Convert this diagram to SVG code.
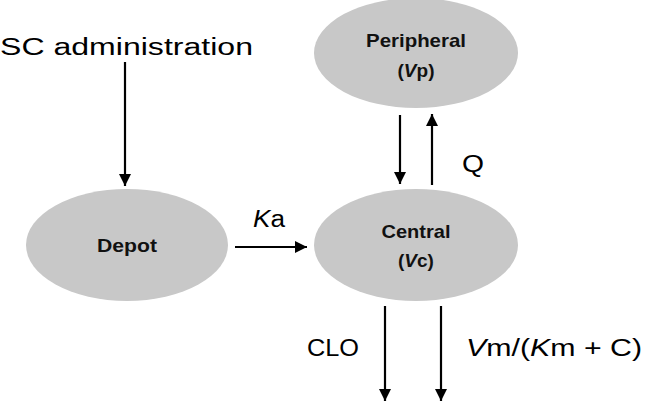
<svg xmlns="http://www.w3.org/2000/svg" width="646" height="402" viewBox="0 0 646 402">
<style>
.node{fill:#c8c8c8;stroke:none}
.nl{font-family:"Liberation Sans",Arial,sans-serif;font-weight:bold;font-size:19px;fill:#111;text-anchor:middle}
.lbl{font-family:"Liberation Sans",Arial,sans-serif;font-size:23px;fill:#000}
.edge{stroke:#000;stroke-width:2.2;fill:none;marker-end:url(#ah)}
</style>
<defs>
<marker id="ah" viewBox="0 0 12 12" refX="12" refY="6" markerWidth="12" markerHeight="12" markerUnits="userSpaceOnUse" orient="auto">
<path d="M0,0 L12,6 L0,12 Z" fill="#000"/>
</marker>
</defs>
<rect width="646" height="402" fill="#fff"/>
<g id="peripheral">
<ellipse class="node" cx="416" cy="53" rx="102" ry="55"/>
<text class="nl" x="416" y="47" textLength="100" lengthAdjust="spacingAndGlyphs">Peripheral</text>
<text class="nl" x="416" y="77">(<tspan font-style="italic">V</tspan>p)</text>
</g>
<g id="depot">
<ellipse class="node" cx="127" cy="245" rx="101" ry="56"/>
<text class="nl" x="127" y="252" textLength="60" lengthAdjust="spacingAndGlyphs">Depot</text>
</g>
<g id="central">
<ellipse class="node" cx="416" cy="245" rx="102" ry="56"/>
<text class="nl" x="416" y="238" textLength="69" lengthAdjust="spacingAndGlyphs">Central</text>
<text class="nl" x="416" y="267">(<tspan font-style="italic">V</tspan>c)</text>
</g>
<g id="labels">
<text class="lbl" x="0" y="55" font-size="30" textLength="253" lengthAdjust="spacingAndGlyphs">SC administration</text>
<text class="lbl" x="253" y="227" textLength="32" lengthAdjust="spacingAndGlyphs"><tspan font-style="italic">K</tspan>a</text>
<text class="lbl" x="462" y="172" textLength="22" lengthAdjust="spacingAndGlyphs">Q</text>
<text class="lbl" x="307" y="356" textLength="52" lengthAdjust="spacingAndGlyphs">CLO</text>
<text class="lbl" x="466" y="356" textLength="176" lengthAdjust="spacingAndGlyphs"><tspan font-style="italic">V</tspan>m/(<tspan font-style="italic">K</tspan>m + C)</text>
</g>
<g id="connectors">
<line class="edge" x1="125" y1="62" x2="125" y2="186"/>
<line class="edge" x1="235" y1="247" x2="307" y2="247"/>
<line class="edge" x1="400" y1="115" x2="400" y2="184"/>
<line class="edge" x1="432" y1="185" x2="432" y2="114"/>
<line class="edge" x1="385" y1="306" x2="385" y2="401"/>
<line class="edge" x1="441" y1="306" x2="441" y2="401"/>
</g>
</svg>
